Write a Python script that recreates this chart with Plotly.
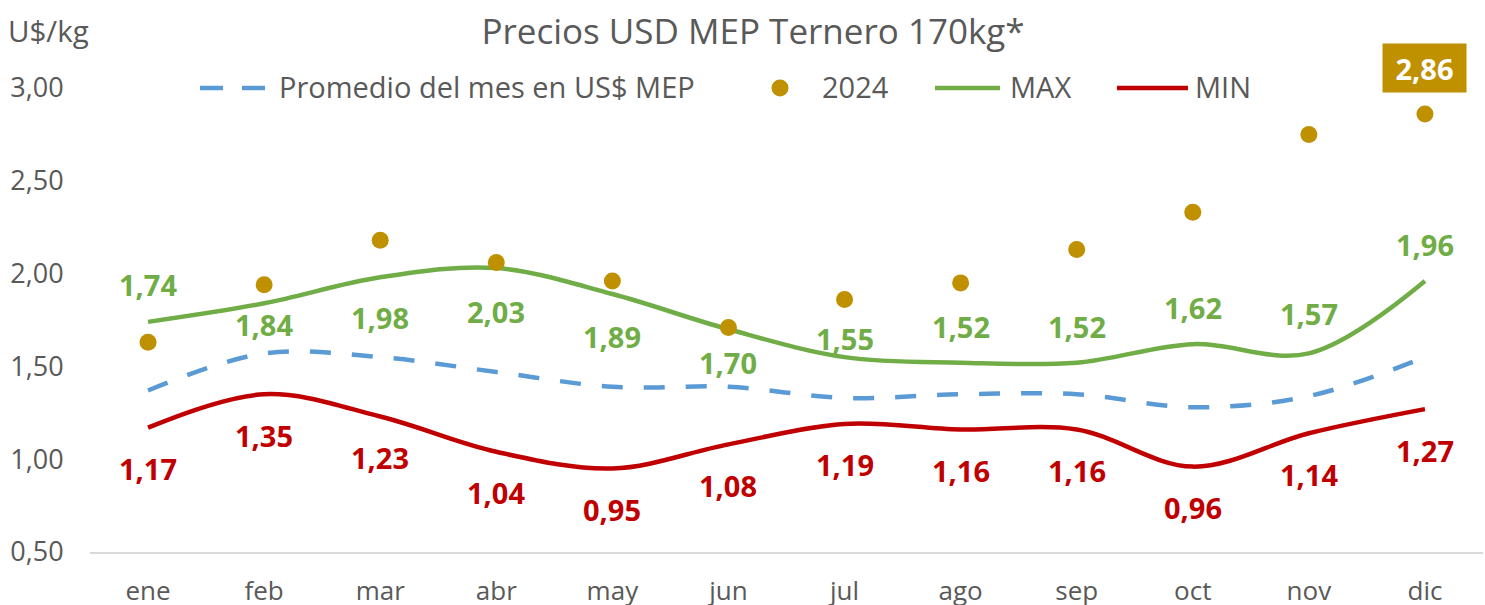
import plotly.graph_objects as go

months = ["ene", "feb", "mar", "abr", "may", "jun", "jul", "ago", "sep", "oct", "nov", "dic"]
promedio = [1.37, 1.57, 1.55, 1.47, 1.39, 1.39, 1.33, 1.35, 1.35, 1.28, 1.34, 1.55]
y2024 = [1.63, 1.94, 2.18, 2.06, 1.96, 1.71, 1.86, 1.95, 2.13, 2.33, 2.75, 2.86]
vmax = [1.74, 1.84, 1.98, 2.03, 1.89, 1.70, 1.55, 1.52, 1.52, 1.62, 1.57, 1.96]
vmin = [1.17, 1.35, 1.23, 1.04, 0.95, 1.08, 1.19, 1.16, 1.16, 0.96, 1.14, 1.27]
yticks = [0.5, 1.0, 1.5, 2.0, 2.5, 3.0]

# label placement (pixels, positive = above the point)
max_label_shift = [37, -21, -40, -43, -42, -33, 19, 36, 36, 37, 40, 37]
min_label_shift = -41

GREEN = "#70AD47"
RED = "#C00000"
BLUE = "#5B9BD5"
GOLD = "#BF9000"
GRAY = "#595959"
FONT = "Open Sans"

W, H = 1485, 605
ML, MR, MT, MB = 90, 2, 88, 53
PW, PH = W - ML - MR, H - MT - MB


def fmt(v):
    return f"{v:.2f}".replace(".", ",")


def px_x(p):
    return (p - ML) / PW


def px_y(p):
    return (H - MB - p) / PH


fig = go.Figure()
fig.add_trace(go.Scatter(x=months, y=promedio, mode="lines", name="Promedio del mes en US$ MEP",
                         line=dict(color=BLUE, width=4.5, dash="21px,21px", shape="spline"),
                         showlegend=False))
fig.add_trace(go.Scatter(x=months, y=vmax, mode="lines", name="MAX",
                         line=dict(color=GREEN, width=4.5, shape="spline"), showlegend=False))
fig.add_trace(go.Scatter(x=months, y=vmin, mode="lines", name="MIN",
                         line=dict(color=RED, width=4.5, shape="spline"), showlegend=False))
fig.add_trace(go.Scatter(x=months, y=y2024, mode="markers", name="2024",
                         marker=dict(color=GOLD, size=17), showlegend=False))

LBL = 29
ann = []
for m, v, s in zip(months, vmax, max_label_shift):
    ann.append(dict(x=m, y=v, text=fmt(v), showarrow=False, yshift=s,
                    font=dict(family=FONT, size=LBL, color=GREEN, weight="bold")))
for m, v in zip(months, vmin):
    ann.append(dict(x=m, y=v, text=fmt(v), showarrow=False, yshift=min_label_shift,
                    font=dict(family=FONT, size=LBL, color=RED, weight="bold")))
# highlighted last 2024 value
ann.append(dict(x=months[-1], y=y2024[-1], text=fmt(y2024[-1]), showarrow=False, yshift=46,
                font=dict(family=FONT, size=LBL, color="white", weight="bold"),
                bgcolor=GOLD, width=79, height=44, borderpad=2))

# y-axis unit
ann.append(dict(xref="paper", yref="paper", x=px_x(6), y=px_y(30), xanchor="left", yanchor="middle",
                text="U$/kg", showarrow=False, font=dict(family=FONT, size=29.5, color=GRAY)))

# manual legend
LEG_Y = 87
legend_items = [
    ("Promedio del mes en US$ MEP", 277),
    ("2024", 820),
    ("MAX", 1008),
    ("MIN", 1193),
]
for txt, xp in legend_items:
    ann.append(dict(xref="paper", yref="paper", x=px_x(xp), y=px_y(LEG_Y), xanchor="left", yanchor="middle",
                    text=txt, showarrow=False, font=dict(family=FONT, size=29, color=GRAY)))

shapes = [
    dict(type="line", xref="paper", yref="paper", x0=px_x(200), x1=px_x(266), y0=px_y(88), y1=px_y(88),
         line=dict(color=BLUE, width=4.5, dash="23px,19px")),
    dict(type="circle", xref="paper", yref="paper", xsizemode="pixel", ysizemode="pixel",
         xanchor=px_x(780), yanchor=px_y(88), x0=-8.5, x1=8.5, y0=-8.5, y1=8.5,
         fillcolor=GOLD, line=dict(width=0)),
    dict(type="line", xref="paper", yref="paper", x0=px_x(935), x1=px_x(1000), y0=px_y(88), y1=px_y(88),
         line=dict(color=GREEN, width=4.5)),
    dict(type="line", xref="paper", yref="paper", x0=px_x(1117), x1=px_x(1188), y0=px_y(88), y1=px_y(88),
         line=dict(color=RED, width=4.5)),
]

fig.update_layout(
    width=W, height=H,
    margin=dict(l=ML, r=MR, t=MT, b=MB, autoexpand=False),
    paper_bgcolor="white", plot_bgcolor="white",
    font=dict(family=FONT, color=GRAY),
    title=dict(text="Precios USD MEP Ternero 170kg*", x=753 / W, xanchor="center", xref="container",
               y=1 - 32 / H, yanchor="middle", yref="container",
               font=dict(family=FONT, size=35, color=GRAY)),
    annotations=ann,
    shapes=shapes,
    showlegend=False,
)
fig.update_xaxes(type="category", categoryorder="array", categoryarray=months, automargin=False,
                 range=[-0.5, len(months) - 0.5],
                 showgrid=False, zeroline=False, showline=True, linecolor="#D9D9D9", linewidth=1.5,
                 ticks="outside", ticklen=15, tickcolor="rgba(0,0,0,0)",
                 tickfont=dict(family=FONT, size=26, color=GRAY))
fig.update_yaxes(range=[0.5, 3.0], tickvals=yticks, ticktext=[fmt(v) for v in yticks], automargin=False,
                 showgrid=False, zeroline=False, showline=False,
                 ticks="outside", ticklen=20, tickcolor="rgba(0,0,0,0)",
                 tickfont=dict(family=FONT, size=27, color=GRAY))

fig.write_html("out.html", config={"displayModeBar": False},
               post_script="document.body.style.margin='0';document.body.style.overflow='hidden';")
